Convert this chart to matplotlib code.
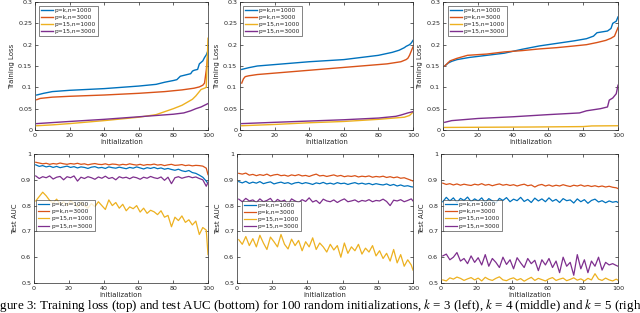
import numpy as np
import matplotlib
matplotlib.use("Agg")
import matplotlib.pyplot as plt

# ---- data -------------------------------------------------------------
labels = ["p=k,n=1000", "p=k,n=3000", "p=15,n=1000", "p=15,n=3000"]
colors = ["#0072BD", "#D95319", "#EDB120", "#7E2F8E"]

# training loss, sorted over initializations (k = 3, 4, 5)
k3_loss_x = [
    [1, 5, 10, 20, 30, 40, 50, 60, 70, 75, 80, 82, 84, 88, 90, 91, 92, 94, 95, 97, 98, 99, 100],
    [1, 3, 10, 20, 40, 60, 75, 85, 92, 95, 97, 98, 99, 100],
    [1, 10, 20, 40, 60, 70, 80, 85, 88, 91, 93, 95, 96, 98, 99, 100],
    [1, 20, 40, 60, 80, 86, 90, 93, 96, 98, 100],
]
k3_loss_y = [
    [0.082, 0.086, 0.090, 0.093, 0.095, 0.097, 0.100, 0.103, 0.107, 0.112, 0.116, 0.118,
     0.126, 0.130, 0.132, 0.138, 0.140, 0.142, 0.155, 0.162, 0.170, 0.176, 0.186],
    [0.071, 0.074, 0.077, 0.079, 0.082, 0.086, 0.090, 0.094, 0.098, 0.101, 0.105, 0.110, 0.140, 0.180],
    [0.010, 0.012, 0.015, 0.022, 0.030, 0.036, 0.050, 0.058, 0.065, 0.072, 0.080, 0.090,
     0.095, 0.098, 0.100, 0.215],
    [0.015, 0.020, 0.025, 0.031, 0.037, 0.040, 0.045, 0.050, 0.054, 0.058, 0.062],
]

k4_loss_x = [
    [1, 5, 10, 25, 40, 60, 80, 88, 92, 95, 96, 98, 99, 100],
    [1, 2, 3, 5, 10, 25, 40, 55, 70, 85, 93, 96, 97, 98, 99, 100],
    [1, 20, 40, 60, 80, 95, 98, 100],
    [1, 20, 40, 60, 80, 90, 93, 97, 100],
]
k4_loss_y = [
    [0.142, 0.146, 0.150, 0.155, 0.160, 0.165, 0.175, 0.182, 0.187, 0.193, 0.196, 0.200, 0.204, 0.210],
    [0.110, 0.120, 0.125, 0.127, 0.130, 0.135, 0.140, 0.145, 0.150, 0.155, 0.160, 0.165,
     0.168, 0.175, 0.185, 0.195],
    [0.010, 0.013, 0.017, 0.020, 0.025, 0.030, 0.034, 0.042],
    [0.015, 0.018, 0.021, 0.024, 0.028, 0.032, 0.035, 0.040, 0.043],
]

k5_loss_x = [
    [1, 3, 5, 8, 15, 25, 35, 45, 55, 65, 75, 82, 86, 88, 94, 96, 97, 99, 100],
    [1, 4, 8, 14, 25, 35, 45, 55, 65, 75, 82, 88, 93, 96, 98, 100],
    [1, 50, 80, 85, 100],
    [1, 5, 20, 40, 60, 78, 82, 90, 94, 95, 97, 99, 100],
]
k5_loss_y = [
    [0.150, 0.157, 0.161, 0.165, 0.170, 0.175, 0.180, 0.189, 0.197, 0.203, 0.209, 0.214,
     0.220, 0.228, 0.232, 0.238, 0.250, 0.255, 0.265],
    [0.150, 0.162, 0.168, 0.175, 0.178, 0.183, 0.186, 0.190, 0.193, 0.197, 0.200, 0.205,
     0.210, 0.215, 0.220, 0.240],
    [0.006, 0.007, 0.008, 0.0095, 0.010],
    [0.018, 0.022, 0.027, 0.031, 0.036, 0.040, 0.045, 0.050, 0.054, 0.070, 0.075, 0.085, 0.105],
]

# test AUC, read every second initialization (1, 3, ..., 99) plus 100
auc_x = list(range(1, 100, 2)) + [100]

k3_auc = [
    [0.958, 0.952, 0.955, 0.950, 0.953, 0.948, 0.952, 0.947, 0.950, 0.953, 0.948, 0.951, 0.946,
     0.950, 0.948, 0.944, 0.949, 0.951, 0.946, 0.948, 0.944, 0.950, 0.947, 0.945, 0.949, 0.946,
     0.943, 0.948, 0.945, 0.950, 0.946, 0.942, 0.947, 0.944, 0.948, 0.943, 0.946, 0.941, 0.944,
     0.940, 0.937, 0.941, 0.935, 0.932, 0.936, 0.928, 0.925, 0.918, 0.910, 0.895, 0.885],
    [0.968, 0.965, 0.962, 0.964, 0.960, 0.963, 0.961, 0.965, 0.962, 0.960, 0.963, 0.961, 0.964,
     0.960, 0.962, 0.958, 0.961, 0.963, 0.960, 0.959, 0.962, 0.958, 0.961, 0.960, 0.957, 0.960,
     0.958, 0.962, 0.959, 0.957, 0.960, 0.956, 0.959, 0.958, 0.961, 0.957, 0.959, 0.955, 0.958,
     0.960, 0.956, 0.957, 0.959, 0.955, 0.957, 0.954, 0.956, 0.955, 0.953, 0.945, 0.920],
    [0.818, 0.835, 0.852, 0.838, 0.820, 0.810, 0.825, 0.805, 0.815, 0.800, 0.818, 0.808, 0.795,
     0.812, 0.800, 0.790, 0.808, 0.796, 0.815, 0.800, 0.785, 0.822, 0.800, 0.812, 0.790, 0.805,
     0.780, 0.795, 0.788, 0.800, 0.775, 0.790, 0.770, 0.782, 0.776, 0.765, 0.780, 0.755, 0.762,
     0.718, 0.755, 0.742, 0.760, 0.735, 0.745, 0.725, 0.740, 0.688, 0.715, 0.705, 0.610],
    [0.915, 0.905, 0.912, 0.908, 0.915, 0.903, 0.910, 0.913, 0.900, 0.912, 0.908, 0.915, 0.895,
     0.910, 0.905, 0.912, 0.908, 0.902, 0.911, 0.906, 0.914, 0.905, 0.909, 0.900, 0.912, 0.907,
     0.910, 0.904, 0.911, 0.908, 0.902, 0.910, 0.906, 0.913, 0.908, 0.905, 0.911, 0.898, 0.910,
     0.885, 0.908, 0.912, 0.906, 0.910, 0.913, 0.908, 0.911, 0.905, 0.900, 0.875, 0.890],
]

k4_auc = [
    [0.893, 0.888, 0.894, 0.886, 0.891, 0.887, 0.893, 0.885, 0.889, 0.892, 0.884, 0.888, 0.891,
     0.886, 0.889, 0.883, 0.888, 0.890, 0.885, 0.889, 0.886, 0.882, 0.888, 0.885, 0.890, 0.884,
     0.887, 0.883, 0.889, 0.885, 0.887, 0.882, 0.886, 0.889, 0.884, 0.887, 0.883, 0.886, 0.881,
     0.885, 0.882, 0.880, 0.884, 0.878, 0.882, 0.876, 0.880, 0.875, 0.877, 0.873, 0.872],
    [0.925, 0.922, 0.926, 0.918, 0.921, 0.916, 0.920, 0.917, 0.922, 0.915, 0.919, 0.921, 0.916,
     0.918, 0.914, 0.919, 0.916, 0.920, 0.915, 0.917, 0.913, 0.918, 0.922, 0.915, 0.917, 0.913,
     0.916, 0.919, 0.914, 0.917, 0.912, 0.915, 0.913, 0.916, 0.911, 0.914, 0.912, 0.915, 0.910,
     0.913, 0.911, 0.914, 0.909, 0.912, 0.908, 0.911, 0.906, 0.908, 0.903, 0.898, 0.895],
    [0.668, 0.650, 0.680, 0.645, 0.672, 0.640, 0.685, 0.655, 0.630, 0.678, 0.660, 0.640, 0.688,
     0.650, 0.632, 0.670, 0.645, 0.665, 0.625, 0.660, 0.640, 0.675, 0.630, 0.655, 0.640, 0.620,
     0.650, 0.628, 0.645, 0.600, 0.655, 0.615, 0.640, 0.625, 0.650, 0.612, 0.635, 0.620, 0.645,
     0.605, 0.625, 0.595, 0.615, 0.585, 0.630, 0.578, 0.610, 0.565, 0.590, 0.570, 0.550],
    [0.825, 0.815, 0.828, 0.818, 0.822, 0.812, 0.826, 0.815, 0.820, 0.828, 0.810, 0.824, 0.816,
     0.821, 0.805, 0.826, 0.818, 0.812, 0.823, 0.816, 0.830, 0.814, 0.820, 0.808, 0.825, 0.818,
     0.815, 0.822, 0.812, 0.820, 0.826, 0.815, 0.818, 0.822, 0.814, 0.820, 0.817, 0.823, 0.815,
     0.820, 0.818, 0.825, 0.816, 0.800, 0.821, 0.818, 0.823, 0.815, 0.820, 0.826, 0.818],
]

k5_auc = [
    [0.815, 0.832, 0.818, 0.830, 0.812, 0.828, 0.820, 0.833, 0.815, 0.826, 0.818, 0.830, 0.812,
     0.827, 0.818, 0.810, 0.828, 0.820, 0.831, 0.815, 0.825, 0.819, 0.832, 0.816, 0.824, 0.812,
     0.829, 0.818, 0.826, 0.815, 0.830, 0.817, 0.824, 0.812, 0.827, 0.819, 0.822, 0.810, 0.826,
     0.815, 0.823, 0.809, 0.820, 0.825, 0.814, 0.819, 0.811, 0.818, 0.813, 0.816, 0.812],
    [0.887, 0.882, 0.885, 0.880, 0.884, 0.879, 0.883, 0.880, 0.878, 0.883, 0.880, 0.885, 0.879,
     0.882, 0.877, 0.881, 0.884, 0.879, 0.882, 0.878, 0.881, 0.876, 0.880, 0.883, 0.877, 0.880,
     0.872, 0.879, 0.882, 0.876, 0.880, 0.875, 0.879, 0.876, 0.881, 0.877, 0.874, 0.879, 0.876,
     0.880, 0.875, 0.878, 0.874, 0.877, 0.873, 0.876, 0.872, 0.875, 0.871, 0.869, 0.866],
    [0.512, 0.508, 0.520, 0.515, 0.523, 0.518, 0.510, 0.516, 0.521, 0.512, 0.519, 0.508, 0.522,
     0.514, 0.510, 0.518, 0.524, 0.512, 0.509, 0.516, 0.520, 0.511, 0.517, 0.507, 0.515, 0.522,
     0.510, 0.518, 0.513, 0.508, 0.516, 0.521, 0.510, 0.515, 0.519, 0.509, 0.514, 0.520, 0.511,
     0.516, 0.508, 0.518, 0.512, 0.536, 0.515, 0.510, 0.519, 0.512, 0.508, 0.515, 0.511],
    [0.605, 0.612, 0.590, 0.600, 0.618, 0.585, 0.595, 0.575, 0.605, 0.580, 0.598, 0.570, 0.610,
     0.565, 0.595, 0.580, 0.560, 0.600, 0.572, 0.590, 0.555, 0.598, 0.578, 0.560, 0.595, 0.575,
     0.588, 0.548, 0.590, 0.570, 0.595, 0.560, 0.585, 0.540, 0.600, 0.565, 0.580, 0.530, 0.610,
     0.555, 0.590, 0.540, 0.585, 0.565, 0.600, 0.550, 0.580, 0.570, 0.575, 0.568, 0.565],
]

x_ticks = [0, 20, 40, 60, 80, 100]
loss_ticks = [0, 0.05, 0.1, 0.15, 0.2, 0.25, 0.3]
loss_ticklabels = ["0", "0.05", "0.1", "0.15", "0.2", "0.25", "0.3"]
auc_ticks = [0.5, 0.6, 0.7, 0.8, 0.9, 1.0]
auc_ticklabels = ["0.5", "0.6", "0.7", "0.8", "0.9", "1"]

caption = ("Figure 3: Training loss (top) and test AUC (bottom) for 100 random initializations, "
           "$k$ = 3 (left), $k$ = 4 (middle) and $k$ = 5 (right).")

W, H = 640, 313
GRAY = "#262626"


def px_axes(fig, left, top, right, bottom):
    """add axes given pixel box (origin top-left)"""
    return fig.add_axes([left / W, 1 - bottom / H, (right - left) / W, (bottom - top) / H])


def style_axes(ax, yticks, yticklabels, ylim, ylabel):
    ax.set_xlim(0, 100)
    ax.set_ylim(*ylim)
    ax.set_xticks(x_ticks)
    ax.set_yticks(yticks)
    ax.set_yticklabels(yticklabels)
    ax.tick_params(direction="in", length=2, width=0.5, labelsize=4.6, colors=GRAY,
                   pad=2, top=True, right=True)
    for s in ax.spines.values():
        s.set_linewidth(0.5)
        s.set_color(GRAY)
    ax.set_xlabel("initialization", fontsize=5, color=GRAY, labelpad=1.2)
    ax.set_ylabel(ylabel, fontsize=5, color=GRAY, labelpad=2)


def add_legend(ax, lines, anchor):
    leg = ax.legend(lines, labels, loc="upper left", bbox_to_anchor=anchor, fontsize=4.2,
                    handlelength=2.0, handletextpad=0.3, labelspacing=0.35, borderpad=0.35,
                    borderaxespad=0, frameon=True, fancybox=False)
    leg.get_frame().set_linewidth(0.5)
    leg.get_frame().set_edgecolor(GRAY)
    for t in leg.get_texts():
        t.set_color(GRAY)


def main():
    plt.rcParams["mathtext.fontset"] = "stix"
    fig = plt.figure(figsize=(W / 100, H / 100), dpi=100)

    top_boxes = [(35, 2, 208, 130), (240, 2, 413, 130), (443, 2, 618, 130)]
    bot_boxes = [(34, 154, 208, 283), (237, 154, 413, 283), (441, 154, 618, 283)]
    loss_x = [k3_loss_x, k4_loss_x, k5_loss_x]
    loss_y = [k3_loss_y, k4_loss_y, k5_loss_y]
    aucs = [k3_auc, k4_auc, k5_auc]
    top_anchor = [(0.023, 0.97), (0.017, 0.97), (0.029, 0.97)]
    bot_anchor = [(0.01, 0.643), (0.028, 0.636), (0.011, 0.643)]

    for i in range(3):
        ax = px_axes(fig, *top_boxes[i])
        lines = []
        for j in range(4):
            (ln,) = ax.plot(loss_x[i][j], loss_y[i][j], color=colors[j], lw=1.0)
            lines.append(ln)
        style_axes(ax, loss_ticks, loss_ticklabels, (0, 0.3), "Training Loss")
        add_legend(ax, lines, top_anchor[i])

        ax = px_axes(fig, *bot_boxes[i])
        lines = []
        for j in range(4):
            (ln,) = ax.plot(auc_x, aucs[i][j], color=colors[j], lw=0.9)
            lines.append(ln)
        style_axes(ax, auc_ticks, auc_ticklabels, (0.5, 1.0), "Test AUC")
        add_legend(ax, lines, bot_anchor[i])

    fig.text(0.5, 1 - 306 / H, caption, ha="center", va="center",
             fontsize=9.4, family="Liberation Serif", color="black")

    fig.savefig("out.png", dpi=100)


main()
